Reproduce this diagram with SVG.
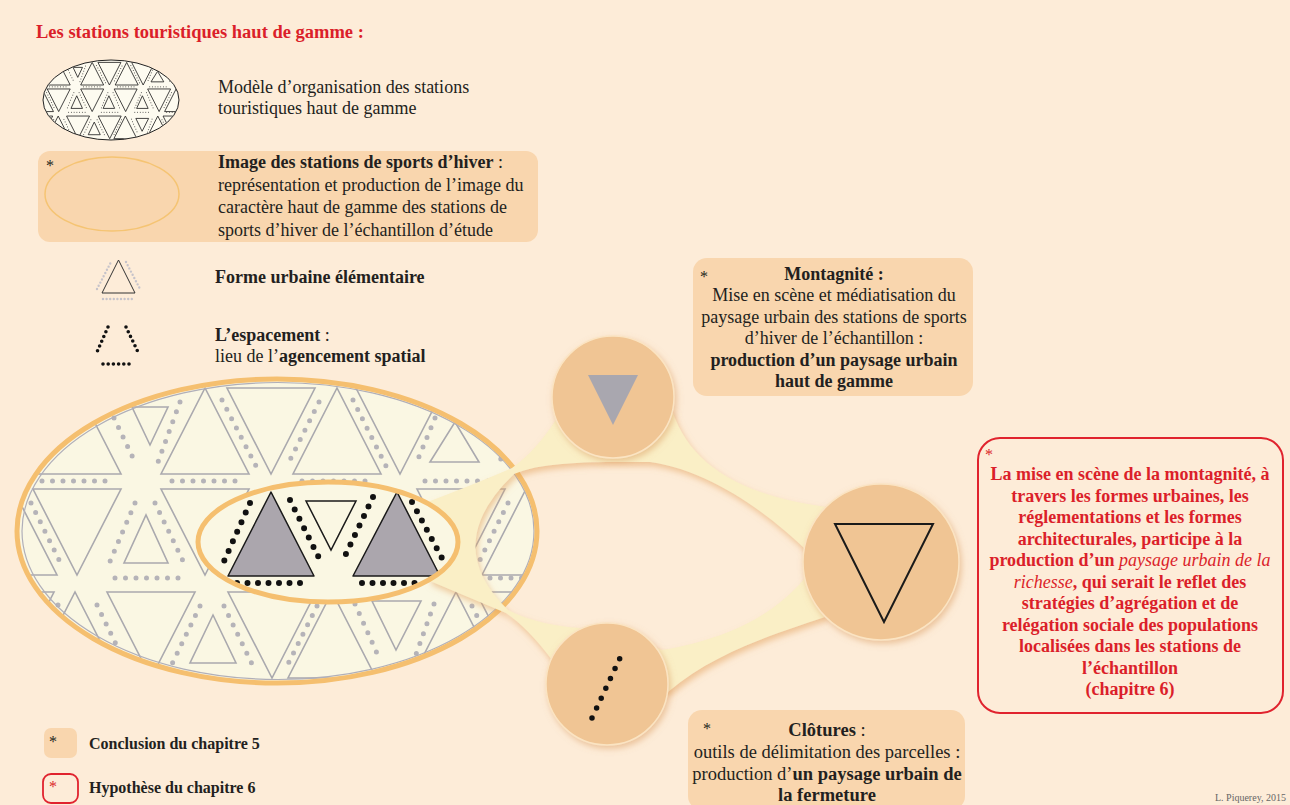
<svg xmlns="http://www.w3.org/2000/svg" xmlns:xlink="http://www.w3.org/1999/xlink" width="1290" height="805" viewBox="0 0 1290 805">
<style>
text{font-family:"Liberation Serif","Times New Roman",serif;fill:#231f20}
.t17{font-size:18px}
.t16{font-size:18px}
.b{font-weight:bold}
.red{fill:#db1f2a}
.box{fill:#f9d6ae}
.circ{fill:#f0c594;stroke:#fbe4c2;stroke-width:1.5}
.ast{font-size:16px}
</style>
<defs>
<clipPath id="bigClip"><ellipse cx="277" cy="531" rx="258" ry="150"/></clipPath>
<clipPath id="innerClip"><ellipse cx="328" cy="542" rx="128" ry="58"/></clipPath>
<filter id="shadow" x="-20%" y="-20%" width="140%" height="140%"><feDropShadow dx="2" dy="4" stdDeviation="3" flood-color="#e3a35f" flood-opacity="0.55"/></filter>
<filter id="cshadow" x="-20%" y="-20%" width="140%" height="140%"><feDropShadow dx="2" dy="3" stdDeviation="3" flood-color="#d99a5c" flood-opacity="0.5"/></filter>
<path id="tris" d="M33 474L121 474L77 388Z M132 407L168 407L150 445Z M161 474L249 474L205 388Z M227 388L315 388L271 474Z M293 474L381 474L337 388Z M356 388L444 388L400 474Z M430 462L479 462L455 422Z M476 388L564 388L520 474Z
M-31 575L57 575L13 489Z M33 489L121 489L77 575Z M124 563L168 563L146 515Z M161 489L249 489L205 575Z M247 563L291 563L269 515Z M289 489L377 489L333 575Z M375 563L419 563L397 515Z M417 489L505 489L461 575Z M482 575L570 575L526 489Z
M-34 592L54 592L10 678Z M31 678L119 678L75 592Z M107 592L195 592L151 678Z M190 663L236 663L213 615Z M228 592L316 592L272 678Z M288 678L376 678L332 592Z M372 601L421 601L396 650Z M412 678L500 678L456 592Z M476 592L564 592L520 678Z"/>
<path id="dots" d="M114 418L136 464 M180 402L158 462 M222 400L256 466 M319 402L289 462 M353 400L386 466 M435 418L416 464 M492 440L504 466
M42 481L113 481 M172 481L242 481 M302 481L372 481 M425 481L495 481
M31 503L62 566 M135 503L108 566 M155 503L184 563 M265 503L238 566 M285 503L312 566 M393 503L366 566 M413 503L440 566 M508 503L477 566
M115 578L185 578 M240 578L306 578 M368 578L430 578 M490 578L556 578
M58 605L28 665 M97 605L126 665 M200 606L172 664 M224 606L252 664 M317 606L287 666 M355 604L380 660 M434 604L414 660 M472 606L502 666"/>
</defs>

<rect x="0" y="0" width="1290" height="805" fill="#fdecd8"/>

<text x="36" y="38" class="b red" style="font-size:18.5px">Les stations touristiques haut de gamme :</text>

<g id="legend-model">
<ellipse cx="111" cy="100" rx="68" ry="40" fill="#fdfbf0"/>
<g transform="translate(111,100) scale(0.2615,0.263) translate(-277,-531)">
<g clip-path="url(#bigClip)">
<use xlink:href="#tris" fill="none" stroke="#222" stroke-width="3.2"/>
<use xlink:href="#dots" fill="none" stroke="#333" stroke-width="3.6" stroke-dasharray="0 10.5" stroke-linecap="round"/>
</g>
</g>
<ellipse cx="111" cy="100" rx="68" ry="40" fill="none" stroke="#222" stroke-width="1"/>
<text x="218" y="93" class="t17">Modèle d’organisation des stations</text>
<text x="218" y="114" class="t17">touristiques haut de gamme</text>
</g>

<g id="legend-image">
<rect x="38" y="151" width="500" height="91" rx="12" class="box"/>
<text x="46" y="171" class="ast">*</text>
<ellipse cx="112" cy="194" rx="67" ry="37" fill="none" stroke="#f5c473" stroke-width="1.5"/>
<text x="218" y="168" class="t17"><tspan class="b">Image des stations de sports d’hiver</tspan> :</text>
<text x="218" y="191" class="t17">représentation et production de l’image du</text>
<text x="218" y="213" class="t17">caractère haut de gamme des stations de</text>
<text x="218" y="236" class="t17">sports d’hiver de l’échantillon d’étude</text>
</g>

<g id="legend-forme">
<path d="M97 289L111 262 M126 262L140 289 M103 299L134 299" fill="none" stroke="#c6c3ca" stroke-width="2.4" stroke-dasharray="0 3.6" stroke-linecap="round"/>
<path d="M102 293L135 293L118.5 260Z" fill="none" stroke="#333" stroke-width="1"/>
<text x="215" y="283" class="t17 b">Forme urbaine élémentaire</text>
</g>

<g id="legend-espacement">
<path d="M108 327L97 352 M126 327L138 352 M103 364L134 364" fill="none" stroke="#111" stroke-width="3.6" stroke-dasharray="0 5.2" stroke-linecap="round"/>
<text x="215" y="341" class="t17"><tspan class="b">L’espacement</tspan> :</text>
<text x="215" y="362" class="t17">lieu de l’<tspan class="b">agencement spatial</tspan></text>
</g>

<g id="station-model">
<ellipse cx="277" cy="531" rx="260" ry="152" fill="#faf7e3"/>
<g clip-path="url(#bigClip)">
<use xlink:href="#tris" fill="none" stroke="#aaa9ae" stroke-width="1.6"/>
<use xlink:href="#dots" fill="none" stroke="#b5b3b8" stroke-width="5" stroke-dasharray="0 10.5" stroke-linecap="round"/>
</g>
<ellipse cx="278" cy="531" rx="256" ry="148.5" fill="none" stroke="#b0afb9" stroke-width="1.2"/>
<ellipse cx="277" cy="531" rx="260" ry="152" fill="none" stroke="#f5bf6f" stroke-width="5"/>
</g>

<g id="connectors">
<path fill-rule="evenodd" fill="#faefc6" filter="url(#shadow)" d="M425 503 Q480 482 512 468 Q537 450 557 418 L672 410 C690 465 740 495 826 507 L825 617 C775 634 715 652 668 692 L552 660 Q528 628 506 613 Q475 600 430 581 Z
M514 474 C545 460 610 462 650 462 C710 470 770 515 804 548 L806 577 C770 620 720 640 662 650 L605 628 C565 630 532 622 508 610 Q440 545 514 474 Z"/>
</g>

<g id="station-focus">
<ellipse cx="328" cy="542" rx="130" ry="60" fill="#faf7e3"/>
<g clip-path="url(#innerClip)">
<path d="M228 576L314 576L271 492Z M353 576L440 576L397 492Z" fill="#aba6ad" stroke="#1a1a1a" stroke-width="1.5" stroke-linejoin="round"/>
<path d="M306 501L356 501L331 550Z" fill="none" stroke="#1a1a1a" stroke-width="1.5"/>
<path d="M250 503L221 568 M290 500L320 560 M373 497L343 560 M412 502L444 562 M237 583L303 583 M362 583L425 583" fill="none" stroke="#111" stroke-width="6" stroke-dasharray="0 10.5" stroke-linecap="round"/>
</g>
<ellipse cx="328" cy="542" rx="130" ry="60" fill="none" stroke="#f5bf6f" stroke-width="5"/>
</g>

<g id="node-montagnite">
<circle cx="613" cy="397" r="61" class="circ" filter="url(#cshadow)"/>
<path d="M588 375L638 375L613 425Z" fill="#a9a7af"/>
</g>

<g id="node-result">
<circle cx="881" cy="562" r="78" class="circ" filter="url(#cshadow)"/>
<path d="M835 524L933 524L884 622Z" fill="none" stroke="#1a1a1a" stroke-width="2"/>
</g>

<g id="node-clotures">
<circle cx="607" cy="684" r="61" class="circ" filter="url(#cshadow)"/>
<path d="M592 718L620 658" fill="none" stroke="#111" stroke-width="5.5" stroke-dasharray="0 10.9" stroke-linecap="round"/>
</g>

<g id="box-montagnite">
<rect x="693" y="258" width="280" height="138" rx="14" class="box"/>
<text x="700" y="282" class="ast">*</text>
<g text-anchor="middle" class="t16">
<text x="834" y="280" class="b">Montagnité :</text>
<text x="834" y="301">Mise en scène et médiatisation du</text>
<text x="834" y="323">paysage urbain des stations de sports</text>
<text x="834" y="344">d’hiver de l’échantillon :</text>
<text x="834" y="366" class="b">production d’un paysage urbain</text>
<text x="834" y="387" class="b">haut de gamme</text>
</g>
</g>

<g id="box-hypothese">
<rect x="978" y="438" width="305" height="275" rx="22" fill="none" stroke="#e0232e" stroke-width="2"/>
<text x="985" y="460" class="ast red">*</text>
<g text-anchor="middle" class="t16 b red">
<text x="1130" y="480" class="red">La mise en scène de la montagnité, à</text>
<text x="1130" y="501.5" class="red">travers les formes urbaines, les</text>
<text x="1130" y="523" class="red">réglementations et les formes</text>
<text x="1130" y="544.5" class="red">architecturales, participe à la</text>
<text x="1130" y="566" class="red">production d’un <tspan style="font-style:italic;font-weight:normal">paysage urbain de la</tspan></text>
<text x="1130" y="587.5" class="red"><tspan style="font-style:italic;font-weight:normal">richesse</tspan>, qui serait le reflet des</text>
<text x="1130" y="609" class="red">stratégies d’agrégation et de</text>
<text x="1130" y="630.5" class="red">relégation sociale des populations</text>
<text x="1130" y="652" class="red">localisées dans les stations de</text>
<text x="1130" y="673.5" class="red">l’échantillon</text>
<text x="1130" y="695" class="red">(chapitre 6)</text>
</g>
</g>

<g id="box-clotures">
<rect x="688" y="710" width="277" height="100" rx="14" class="box"/>
<text x="703" y="734" class="ast">*</text>
<g text-anchor="middle" style="font-size:18.5px">
<text x="827" y="736"><tspan class="b">Clôtures</tspan> :</text>
<text x="827" y="758">outils de délimitation des parcelles :</text>
<text x="827" y="780">production d’<tspan class="b">un paysage urbain de</tspan></text>
<text x="827" y="801" class="b">la fermeture</text>
</g>
</g>

<g id="legend-chapters">
<rect x="44" y="728" width="33" height="30" rx="7" class="box"/>
<text x="49" y="747" class="ast">*</text>
<text x="89" y="749" class="b" style="font-size:16px">Conclusion du chapitre 5</text>
<rect x="43" y="774" width="35" height="29" rx="8" fill="none" stroke="#e0232e" stroke-width="1.8"/>
<text x="49" y="792" class="ast red">*</text>
<text x="89" y="793" class="b" style="font-size:16px">Hypothèse du chapitre 6</text>
</g>

<text x="1286" y="801" text-anchor="end" style="font-size:10px;fill:#666">L. Piquerey, 2015</text>
</svg>
